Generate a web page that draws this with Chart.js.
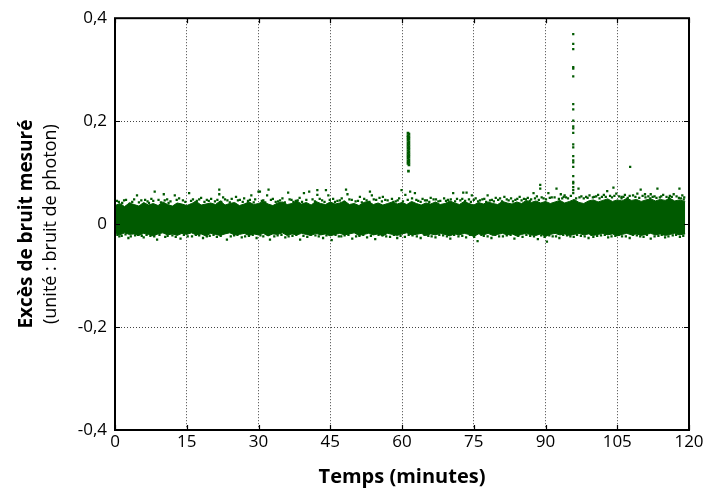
<!DOCTYPE html>
<html><head><meta charset="utf-8">
<script src="https://cdn.jsdelivr.net/npm/chart.js@4/dist/chart.umd.min.js"></script>
<style>html,body{margin:0;padding:0;background:#fff}#wrap{width:707px;height:491px}</style>
</head><body><div id="wrap"><canvas id="c" width="707" height="491"></canvas></div>
<script>
// ---- data ----
const xTicks = [0, 15, 30, 45, 60, 75, 90, 105, 120];
const yTickValues = [-0.4, -0.2, 0, 0.2, 0.4];
const yTickLabels = ['-0,4', '-0,2', '0', '0,2', '0,4'];
const xTitle = 'Temps (minutes)';
const yTitleBold = 'Excès de bruit mesuré';
const yTitleNormal = '(unité : bruit de photon)';

// dense core of the noise band: upper / lower edge per minute
const bandMinutes = [0,1,2,3,4,5,6,7,8,9,10,11,12,13,14,15,16,17,18,19,20,21,22,23,24,25,26,27,28,29,
30,31,32,33,34,35,36,37,38,39,40,41,42,43,44,45,46,47,48,49,50,51,52,53,54,55,56,57,58,59,
60,61,62,63,64,65,66,67,68,69,70,71,72,73,74,75,76,77,78,79,80,81,82,83,84,85,86,87,88,89,
90,91,92,93,94,95,96,97,98,99,100,101,102,103,104,105,106,107,108,109,110,111,112,113,114,115,116,117,118,119.2];
const bandUpper = [0.036,0.040,0.034,0.041,0.038,0.035,0.042,0.037,0.040,0.036,
0.043,0.038,0.035,0.041,0.039,0.036,0.040,0.044,0.037,0.039,
0.041,0.038,0.045,0.037,0.040,0.042,0.036,0.039,0.043,0.038,
0.040,0.044,0.039,0.036,0.041,0.043,0.038,0.040,0.045,0.039,
0.042,0.037,0.044,0.040,0.038,0.043,0.039,0.041,0.045,0.038,
0.040,0.036,0.042,0.044,0.038,0.041,0.037,0.040,0.043,0.039,
0.042,0.038,0.044,0.040,0.037,0.041,0.039,0.043,0.038,0.040,
0.045,0.041,0.038,0.044,0.040,0.037,0.042,0.039,0.043,0.040,
0.038,0.044,0.041,0.039,0.043,0.040,0.046,0.042,0.045,0.041,
0.044,0.040,0.043,0.046,0.041,0.044,0.048,0.042,0.040,0.045,
0.047,0.043,0.046,0.049,0.044,0.047,0.045,0.050,0.046,0.048,
0.044,0.047,0.049,0.045,0.048,0.046,0.050,0.045,0.047,0.044];
const bandLower = [-0.018,-0.021,-0.017,-0.020,-0.019,-0.022,-0.018,-0.020,-0.023,-0.019,
-0.017,-0.021,-0.019,-0.022,-0.018,-0.020,-0.017,-0.021,-0.019,-0.023,
-0.018,-0.020,-0.022,-0.019,-0.017,-0.021,-0.020,-0.018,-0.022,-0.019,
-0.021,-0.018,-0.023,-0.019,-0.020,-0.017,-0.022,-0.019,-0.021,-0.018,
-0.020,-0.022,-0.018,-0.021,-0.019,-0.023,-0.020,-0.018,-0.021,-0.019,
-0.017,-0.022,-0.020,-0.018,-0.021,-0.019,-0.023,-0.018,-0.020,-0.022,
-0.019,-0.017,-0.021,-0.020,-0.018,-0.022,-0.019,-0.021,-0.018,-0.020,
-0.023,-0.019,-0.021,-0.018,-0.020,-0.024,-0.019,-0.021,-0.018,-0.022,
-0.020,-0.018,-0.021,-0.019,-0.023,-0.020,-0.018,-0.021,-0.022,-0.019,
-0.024,-0.020,-0.018,-0.021,-0.019,-0.022,-0.020,-0.018,-0.021,-0.019,
-0.022,-0.020,-0.018,-0.021,-0.019,-0.023,-0.020,-0.018,-0.021,-0.019,
-0.022,-0.020,-0.018,-0.021,-0.019,-0.022,-0.020,-0.018,-0.021,-0.019];

// scattered measurements outside the dense core: [minutes, value]
const fringePoints = [
[4.6,0.056],[8.3,0.063],[10.2,0.058],[12.5,0.056],[15.5,0.060],[21.8,0.067],[21.8,0.058],[25.3,0.053],[28.5,0.056],[30.0,0.063],
[0.4,0.045],[1.5,0.041],[2.3,0.047],[3.6,0.043],[5.5,0.046],[6.8,0.044],[7.6,0.049],[9.1,0.047],[10.9,0.048],[11.6,0.044],
[13.4,0.050],[14.2,0.046],[16.3,0.048],[17.1,0.045],[18.0,0.051],[19.2,0.047],[20.1,0.049],[20.9,0.044],[22.6,0.052],[23.5,0.046],
[24.4,0.049],[26.1,0.047],[27.0,0.050],[27.8,0.045],[29.3,0.048],
[0.9,-0.024],[2.8,-0.027],[4.2,-0.022],[6.0,-0.026],[7.4,-0.023],[8.8,-0.030],[10.5,-0.025],[12.0,-0.022],[13.7,-0.028],[15.2,-0.024],
[16.9,-0.021],[18.4,-0.027],[19.8,-0.023],[21.3,-0.025],[23.4,-0.030],[24.9,-0.022],[26.5,-0.026],[28.0,-0.023],[29.6,-0.027],
[30.3,0.063],[31.8,0.056],[32.1,0.067],[36.2,0.061],[39.5,0.060],[40.6,0.063],[42.3,0.066],[42.3,0.057],[44.1,0.066],[44.6,0.056],
[48.3,0.067],[48.6,0.058],[51.2,0.053],[53.3,0.063],[53.7,0.056],[56.0,0.053],[59.4,0.050],[59.9,0.066],[60.7,0.057],
[31.0,0.046],[33.0,0.049],[34.1,0.044],[35.0,0.050],[36.9,0.047],[37.8,0.045],[38.6,0.051],[41.3,0.048],[43.3,0.046],[45.6,0.049],
[46.5,0.045],[47.4,0.050],[49.5,0.047],[50.3,0.044],[52.1,0.049],[54.6,0.047],[55.3,0.051],[57.0,0.046],[57.9,0.049],[58.7,0.044],
[31.0,-0.024],[32.4,-0.030],[34.0,-0.022],[35.6,-0.026],[37.1,-0.023],[38.7,-0.030],[40.2,-0.025],[41.9,-0.022],[43.5,-0.027],[45.3,-0.031],
[46.8,-0.024],[48.0,-0.022],[49.6,-0.028],[51.1,-0.023],[52.7,-0.026],[54.4,-0.029],[55.9,-0.022],[57.5,-0.025],[59.0,-0.027],
[61.7,0.063],[62.7,0.060],[70.7,0.060],[72.8,0.061],[73.5,0.061],[74.6,0.056],[77.9,0.056],[80.5,0.050],[81.4,0.053],[87.5,0.060],
[88.9,0.076],[88.9,0.069],[90.6,0.060],[91.3,0.052],
[61.2,0.047],[62.1,0.050],[63.4,0.045],[64.3,0.049],[65.2,0.046],[66.0,0.051],[67.1,0.048],[68.0,0.045],[68.8,0.050],[69.6,0.047],
[71.5,0.049],[72.2,0.046],[74.0,0.048],[75.4,0.050],[76.3,0.046],[77.2,0.049],[78.8,0.047],[79.6,0.051],[81.9,0.048],[82.8,0.050],
[83.7,0.047],[84.6,0.053],[85.5,0.049],[86.3,0.051],[87.0,0.048],[88.2,0.054],[89.6,0.050],
[60.6,-0.025],[62.2,-0.022],[63.9,-0.027],[65.5,-0.023],[67.0,-0.026],[68.6,-0.022],[70.1,-0.028],[71.8,-0.024],[73.4,-0.026],[75.8,-0.033],
[77.1,-0.023],[78.7,-0.027],[80.3,-0.024],[81.9,-0.022],[83.5,-0.028],[85.2,-0.025],[86.8,-0.023],[88.4,-0.029],[90.3,-0.034],
[92.3,0.069],[93.2,0.058],[94.0,0.056],[96.9,0.069],[102.9,0.064],[104.2,0.071],[107.7,0.111],[109.9,0.067],[113.4,0.069],[118.0,0.069],
[101.0,0.057],[101.8,0.053],[105.9,0.053],[107.6,0.055],[110.8,0.058],[111.5,0.054],[113.9,0.052],[116.0,0.055],[98.5,0.053],
[91.9,0.052],[92.8,0.049],[93.8,0.053],[94.7,0.050],[95.3,0.055],[97.5,0.054],[98.0,0.050],[99.2,0.056],[99.9,0.052],[100.6,0.054],
[102.2,0.057],[103.5,0.055],[104.8,0.059],[105.4,0.054],[106.6,0.057],[108.3,0.056],[109.2,0.059],[110.3,0.055],[112.0,0.058],[112.8,0.054],
[114.6,0.057],[115.3,0.053],[116.8,0.058],[117.4,0.054],[118.6,0.056],[119.0,0.052],
[91.5,-0.024],[92.9,-0.027],[94.5,-0.022],[95.9,-0.025],[97.4,-0.023],[99.0,-0.027],[100.0,-0.025],[101.6,-0.022],[103.1,-0.026],[104.6,-0.023],
[106.0,-0.024],[107.6,-0.027],[109.1,-0.022],[110.5,-0.025],[112.0,-0.028],[113.6,-0.023],[115.0,-0.026],[116.6,-0.022],[118.1,-0.025]
];

// measurements hugging the edges of the dense core: [minutes, value]
const edgePoints = [
[0.8,0.043],[1.9,0.046],[3.1,0.040],[4.0,0.048],[5.0,0.042],[6.3,0.047],[7.1,0.041],[8.0,0.045],[9.6,0.042],[10.4,0.046],
[11.2,0.041],[12.9,0.047],[14.7,0.043],[15.9,0.045],[16.8,0.042],[17.6,0.048],[18.7,0.043],[19.6,0.045],[21.4,0.047],[22.2,0.043],
[23.0,0.048],[24.0,0.042],[25.7,0.046],[26.7,0.043],[28.2,0.047],[29.0,0.042],[30.7,0.045],[31.4,0.042],[32.6,0.047],[33.6,0.043],
[34.5,0.046],[35.5,0.042],[36.5,0.048],[37.3,0.043],[38.2,0.046],[39.1,0.043],[40.0,0.047],[41.8,0.044],[42.8,0.049],[43.8,0.043],
[44.9,0.047],[46.0,0.043],[47.0,0.046],[47.9,0.043],[49.0,0.048],[50.8,0.045],[51.6,0.042],[52.6,0.046],[53.2,0.043],[54.1,0.048],
[55.8,0.044],[56.5,0.047],[58.2,0.043],[59.1,0.046],[60.2,0.044],[63.0,0.047],[63.9,0.043],[64.8,0.046],[65.7,0.043],[66.6,0.048],
[67.6,0.044],[69.2,0.045],[70.2,0.048],[71.1,0.044],[72.6,0.049],[73.2,0.045],[74.4,0.043],[75.0,0.047],[75.9,0.044],[76.8,0.048],
[77.6,0.043],[78.4,0.046],[79.2,0.044],[80.1,0.047],[80.9,0.044],[82.3,0.046],[83.2,0.044],[84.1,0.049],[85.0,0.046],[85.9,0.048],
[86.7,0.045],[87.8,0.050],[88.6,0.047],[89.2,0.052],[90.1,0.048],[90.9,0.051],[93.5,0.050],[94.3,0.052],[96.4,0.050],[97.1,0.052],
[98.8,0.051],[100.2,0.053],[101.3,0.050],[102.6,0.053],[103.9,0.052],[104.4,0.055],[105.9,0.050],[106.3,0.053],[107.2,0.051],[108.8,0.053],
[109.6,0.051],[110.9,0.052],[111.9,0.050],[112.4,0.053],[113.2,0.051],[114.2,0.054],[115.8,0.051],[116.4,0.053],[117.9,0.051],[118.3,0.050],
[118.9,0.048],
[0.5,-0.021],[1.4,-0.023],[2.2,-0.020],[3.3,-0.024],[4.8,-0.021],[5.6,-0.023],[6.6,-0.021],[8.2,-0.024],[9.3,-0.021],[11.0,-0.023],
[12.7,-0.025],[14.4,-0.021],[16.1,-0.024],[17.6,-0.022],[19.2,-0.024],[20.6,-0.021],[22.1,-0.023],[24.2,-0.024],[25.6,-0.021],[27.2,-0.024],
[28.8,-0.021],[30.4,-0.022],[32.0,-0.021],[33.3,-0.024],[34.8,-0.021],[36.3,-0.024],[37.9,-0.021],[39.4,-0.023],[40.9,-0.021],[42.6,-0.024],
[44.2,-0.022],[46.1,-0.021],[47.3,-0.024],[48.8,-0.021],[50.4,-0.024],[51.9,-0.021],[53.5,-0.023],[55.1,-0.021],[56.7,-0.024],[58.3,-0.021],
[59.7,-0.023],[61.4,-0.021],[63.1,-0.024],[64.7,-0.021],[66.2,-0.024],[67.8,-0.021],[69.4,-0.024],[70.9,-0.021],[72.6,-0.023],[74.2,-0.021],
[75.1,-0.025],[76.6,-0.021],[77.9,-0.024],[79.5,-0.021],[81.1,-0.024],[82.7,-0.021],[84.3,-0.023],[86.0,-0.021],[87.6,-0.024],[89.1,-0.022],
[89.8,-0.025],[90.8,-0.022],[92.2,-0.024],[93.7,-0.021],[95.2,-0.024],[96.6,-0.021],[98.2,-0.024],[99.6,-0.021],[100.8,-0.023],[102.4,-0.021],
[103.8,-0.024],[105.3,-0.021],[106.8,-0.024],[108.3,-0.021],[109.8,-0.024],[111.2,-0.021],[112.8,-0.024],[114.3,-0.021],[115.7,-0.024],[117.3,-0.021],
[118.8,-0.023]
];

// burst near 61 min (a dense short column of measurements)
const burst61Minutes = [61.25,61.45,61.25,61.45,61.25,61.45,61.25,61.45,61.25,61.45,61.25,61.45,61.25,61.45,61.25,61.45,
61.25,61.45,61.25,61.45,61.25,61.45,61.25,61.45,61.25,61.45,61.35];
const burst61Values  = [0.177,0.175,0.172,0.170,0.168,0.165,0.163,0.160,0.158,0.155,0.153,0.150,0.148,0.145,0.143,0.140,
0.138,0.135,0.133,0.130,0.128,0.125,0.123,0.120,0.118,0.115,0.103];
// burst near 96 min
const burst96Minutes = [95.8,95.8,95.8,95.8,95.8,95.8,95.8,95.8,95.8,95.8,95.8,95.8,95.8,95.8,95.8,95.8,95.8,95.8,95.8,95.8,95.8,95.8,95.8,95.8];
const burst96Values  = [0.369,0.350,0.340,0.305,0.302,0.287,0.233,0.223,0.201,0.190,0.186,0.177,0.155,0.149,0.132,0.124,0.120,0.111,0.093,0.082,0.079,0.072,0.066,0.060];

// ---- chart ----
const GREEN = '#005a00';
const FONT = "'Open Sans', 'DejaVu Sans', sans-serif";

const toXY = (xs, ys) => xs.map((x, i) => ({x: x, y: ys[i]}));
const pairsToXY = (ps) => ps.map(p => ({x: p[0], y: p[1]}));

const frame = {
  id: 'frame',
  afterDatasetsDraw(chart) {
    const {ctx, chartArea: a, scales} = chart;
    ctx.save();
    ctx.strokeStyle = '#000';
    ctx.lineWidth = 1.2;
    ctx.beginPath();
    xTicks.forEach(v => {
      const px = Math.round(scales.x.getPixelForValue(v)) + 0.5;
      ctx.moveTo(px, a.bottom); ctx.lineTo(px, a.bottom - 5);
      ctx.moveTo(px, a.top); ctx.lineTo(px, a.top + 5);
    });
    yTickValues.forEach(v => {
      const py = Math.round(scales.y.getPixelForValue(v)) + 0.5;
      ctx.moveTo(a.left, py); ctx.lineTo(a.left + 5, py);
      ctx.moveTo(a.right, py); ctx.lineTo(a.right - 5, py);
    });
    ctx.stroke();
    ctx.lineWidth = 2;
    ctx.strokeRect(a.left, a.top, a.right - a.left, a.bottom - a.top);
    ctx.restore();
  },
  afterDraw(chart) {
    const {ctx, chartArea: a} = chart;
    const cy = (a.top + a.bottom) / 2;
    ctx.save();
    ctx.fillStyle = '#000';
    ctx.textAlign = 'center';
    ctx.textBaseline = 'middle';
    ctx.translate(27, cy);
    ctx.rotate(-Math.PI / 2);
    ctx.font = 'bold 19px ' + FONT;
    ctx.fillText(yTitleBold, 0, 0);
    ctx.font = '18px ' + FONT;
    ctx.fillText(yTitleNormal, 0, 24);
    ctx.restore();
    ctx.save();
    ctx.fillStyle = '#000';
    ctx.textAlign = 'center';
    ctx.textBaseline = 'middle';
    ctx.font = 'bold 20px ' + FONT;
    ctx.fillText(xTitle, (a.left + a.right) / 2, 477);
    ctx.restore();
  }
};

const pointStyleOpts = {
  type: 'scatter', showLine: false, pointStyle: 'rect', pointRadius: 1.6, pointHoverRadius: 1.6,
  pointBorderWidth: 0, backgroundColor: GREEN, borderColor: GREEN
};

new Chart(document.getElementById('c'), {
  type: 'scatter',
  data: {
    datasets: [
      Object.assign({label: 'burst96', data: toXY(burst96Minutes, burst96Values)}, pointStyleOpts),
      Object.assign({label: 'burst61', data: toXY(burst61Minutes, burst61Values)}, pointStyleOpts, {pointRadius: 1.9}),
      Object.assign({label: 'fringe', data: pairsToXY(fringePoints)}, pointStyleOpts),
      Object.assign({label: 'edge', data: pairsToXY(edgePoints)}, pointStyleOpts),
      {label: 'upper', type: 'line', data: toXY(bandMinutes, bandUpper), showLine: true, fill: '+1',
       backgroundColor: GREEN, borderColor: GREEN, borderWidth: 1, pointRadius: 0, tension: 0},
      {label: 'lower', type: 'line', data: toXY(bandMinutes, bandLower), showLine: true, fill: false,
       backgroundColor: GREEN, borderColor: GREEN, borderWidth: 1, pointRadius: 0, tension: 0}
    ]
  },
  options: {
    responsive: false,
    animation: false,
    events: [],
    layout: {padding: {top: 18, right: 18, left: 0, bottom: 0}},
    plugins: {legend: {display: false}, tooltip: {enabled: false}},
    scales: {
      x: {
        type: 'linear', min: 0, max: 120,
        afterBuildTicks: s => { s.ticks = xTicks.map(v => ({value: v})); },
        afterFit: s => { s.height = 61; },
        ticks: {font: {family: FONT, size: 17}, color: '#000', padding: 2, maxRotation: 0, autoSkip: false},
        grid: {color: '#444', lineWidth: 1, drawTicks: false},
        border: {display: false, dash: [1, 2]}
      },
      y: {
        type: 'linear', min: -0.4, max: 0.4,
        afterBuildTicks: s => { s.ticks = yTickValues.map(v => ({value: v})); },
        afterFit: s => { s.width = 115; },
        ticks: {font: {family: FONT, size: 17}, color: '#000', padding: 8, autoSkip: false,
                callback: (v) => yTickLabels[yTickValues.indexOf(v)] ?? ''},
        grid: {color: '#444', lineWidth: 1, drawTicks: false},
        border: {display: false, dash: [1, 2]}
      }
    }
  },
  plugins: [frame]
});
</script></body></html>
